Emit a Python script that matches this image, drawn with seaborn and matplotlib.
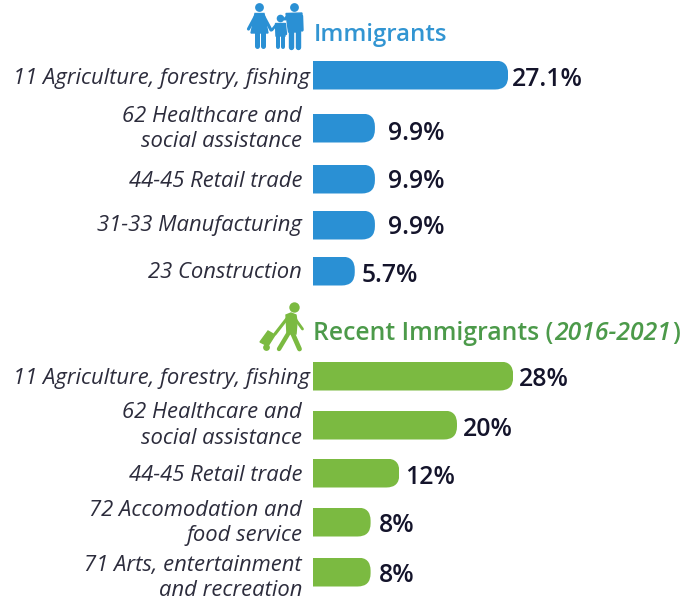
import matplotlib
matplotlib.use("Agg")
import matplotlib.pyplot as plt
import pandas as pd
import seaborn as sns
from matplotlib.patches import FancyBboxPatch, Polygon
from matplotlib.transforms import IdentityTransform

# values (bar lengths do not quite follow the printed labels)
imm_categories = [
    "11 Agriculture, forestry, fishing",
    "62 Healthcare and\nsocial assistance",
    "44-45 Retail trade",
    "31-33 Manufacturing",
    "23 Construction",
]
imm_lengths = [27.1, 8.6, 8.6, 8.6, 5.8]
imm_labels = ["27.1%", "9.9%", "9.9%", "9.9%", "5.7%"]

rec_categories = [
    "11 Agriculture, forestry, fishing",
    "62 Healthcare and\nsocial assistance",
    "44-45 Retail trade",
    "72 Accomodation and\nfood service",
    "71 Arts, entertainment\nand recreation",
]
rec_lengths = [27.8, 20, 12, 8, 8]
rec_labels = ["28%", "20%", "12%", "8%", "8%"]

# layout, in pixels
W, H = 696, 602
BAR_LEFT = 313
PX_PER_UNIT = 7.2
BAR_H = 29
imm_rows = [75, 128, 179, 225, 271]
rec_rows = [376, 425, 473, 522, 572]
imm_value_rows = [76, 131, 179, 224, 273]
rec_value_rows = [376, 426, 474, 522, 572]
imm_text_rows = [76, 124, 179, 223, 270]
rec_text_rows = [376, 421, 473, 518, 573]
imm_gaps = [4, 13, 13, 13, 7]
rec_gaps = [6, 6, 6, 8, 8]

BLUE = "#2a90d4"
GREEN = "#7bba41"
BLUE_TXT = "#3295d2"
GREEN_TXT = "#4c9a4a"
DARK = "#14142b"
TXT = "#2c2c3c"

sns.set_theme(style="white")
plt.rcParams["font.family"] = ["Open Sans", "DejaVu Sans"]

fig = plt.figure(figsize=(W / 100, H / 100), dpi=100)
ax = fig.add_axes([0, 0, 1, 1])


def draw_panel(rows, lengths, color):
    df = pd.DataFrame({"row": rows, "length": lengths})
    sns.barplot(
        data=df,
        x="length",
        y="row",
        orient="y",
        native_scale=True,
        color=color,
        saturation=1,
        width=BAR_H / min(b - a for a, b in zip(rows, rows[1:])),
        linewidth=0,
        ax=ax,
    )


panels = [
    (imm_rows, imm_lengths, imm_labels, imm_categories, imm_gaps, imm_value_rows, imm_text_rows, BLUE),
    (rec_rows, rec_lengths, rec_labels, rec_categories, rec_gaps, rec_value_rows, rec_text_rows, GREEN),
]
for p in panels:
    draw_panel(p[0], p[1], p[7])

ax.set_xlim(-BAR_LEFT / PX_PER_UNIT, (W - BAR_LEFT) / PX_PER_UNIT)
ax.set_ylim(H, 0)
ax.axis("off")

# round the right end of every bar by clipping it
fig.canvas.draw()
for bar in ax.patches:
    (x0, y0), (x1, y1) = ax.transData.transform(
        [(bar.get_x(), bar.get_y()), (bar.get_x() + bar.get_width(), bar.get_y() + bar.get_height())]
    )
    ylo, yhi = min(y0, y1), max(y0, y1)
    r = (yhi - ylo) * 0.45
    clip = FancyBboxPatch(
        (x0 - 60 + r, ylo + r),
        x1 - x0 + 60 - 2 * r,
        yhi - ylo - 2 * r,
        boxstyle=f"round,pad={r},rounding_size={r}",
        transform=IdentityTransform(),
    )
    bar.set_clip_path(clip)

for rows, lengths, labels, categories, gaps, value_rows, text_rows, color in panels:
    for i in range(len(rows)):
        ax.text(
            lengths[i] + gaps[i] / PX_PER_UNIT, value_rows[i], labels[i], ha="left", va="center_baseline",
            fontsize=17.8, fontweight="semibold", color=DARK,
        )
        # the long one-line label runs right up to the bar
        right = 310 if i == 0 else 302
        ax.text(
            (right - BAR_LEFT) / PX_PER_UNIT, text_rows[i], categories[i], ha="right", va="center_baseline",
            fontsize=15.8, style="italic", color=TXT, linespacing=1.28,
        )


def px(x, y):
    return ((x - BAR_LEFT) / PX_PER_UNIT, y)


def limb(points, color, lw):
    xs, ys = zip(*[px(*p) for p in points])
    ax.plot(xs, ys, color=color, lw=lw * 0.72, solid_capstyle="round", solid_joinstyle="round")


def head(x, y, r, color):
    # axes are not isotropic in data units, so draw it as a marker
    ax.plot(*px(x, y), "o", color=color, ms=r * 2 * 0.72, mew=0)


def shape(points, color):
    ax.add_patch(Polygon([px(*p) for p in points], closed=True, fc=color, ec=color, lw=1))


# family icon
head(259.3, 7.3, 4.4, BLUE)
shape([(255, 13.5), (264, 13.5), (268, 33), (251, 33)], BLUE)
limb([(255.5, 16), (248.5, 29)], BLUE, 3.2)
limb([(263.5, 16), (271, 30)], BLUE, 3.2)
limb([(256.5, 32), (256.5, 46)], BLUE, 5)
limb([(262.5, 32), (262.5, 46)], BLUE, 5)
head(280, 17.7, 3.8, BLUE)
shape([(275.5, 23.5), (285.5, 23.5), (285, 36), (276, 36)], BLUE)
limb([(278, 35), (278, 46.5)], BLUE, 4)
limb([(283, 35), (283, 46.5)], BLUE, 4)
limb([(276, 25), (272, 30)], BLUE, 2.6)
limb([(285, 25), (286, 34)], BLUE, 2.4)
head(294.3, 7.3, 4.4, BLUE)
shape([(286, 13.5), (302, 13), (300, 32), (288.5, 32)], BLUE)
limb([(288, 16), (285, 19)], BLUE, 3.2)
limb([(301.5, 16), (302, 30)], BLUE, 3.4)
limb([(291, 31), (291, 46.5)], BLUE, 5.4)
limb([(297.5, 31), (297.5, 46.5)], BLUE, 5.4)

# traveller icon
head(294, 306.7, 5.2, GREEN)
shape([(286, 315), (291, 313), (296, 315), (297, 322), (296, 334), (287, 334)], GREEN)
limb([(289, 316), (275, 334)], GREEN, 3.2)
limb([(296, 320), (302.5, 329)], GREEN, 2.8)
limb([(288, 334), (279, 349)], GREEN, 4.4)
limb([(292, 332), (299.5, 349)], GREEN, 4.8)
shape([(260, 342), (268, 331), (275, 335), (268, 346)], GREEN)
head(266, 347, 3.4, GREEN)

# panel titles
title_kw = dict(ha="left", va="center_baseline", fontweight="semibold")
ax.text(*px(314, 32), "Immigrants", color=BLUE_TXT, fontsize=17.3, **title_kw)
t = ax.text(*px(313, 331), "Recent Immigrants (", color=GREEN_TXT, fontsize=17.8, **title_kw)
r = fig.canvas.get_renderer()
x = t.get_window_extent(r).x1 + 1
t = ax.text(*px(x, 331), "2016-2021", color=GREEN_TXT, fontsize=17.8, style="italic", **title_kw)
x = t.get_window_extent(r).x1 + 1
ax.text(*px(x, 331), ")", color=GREEN_TXT, fontsize=17.8, **title_kw)

fig.savefig("out.png", dpi=100)
